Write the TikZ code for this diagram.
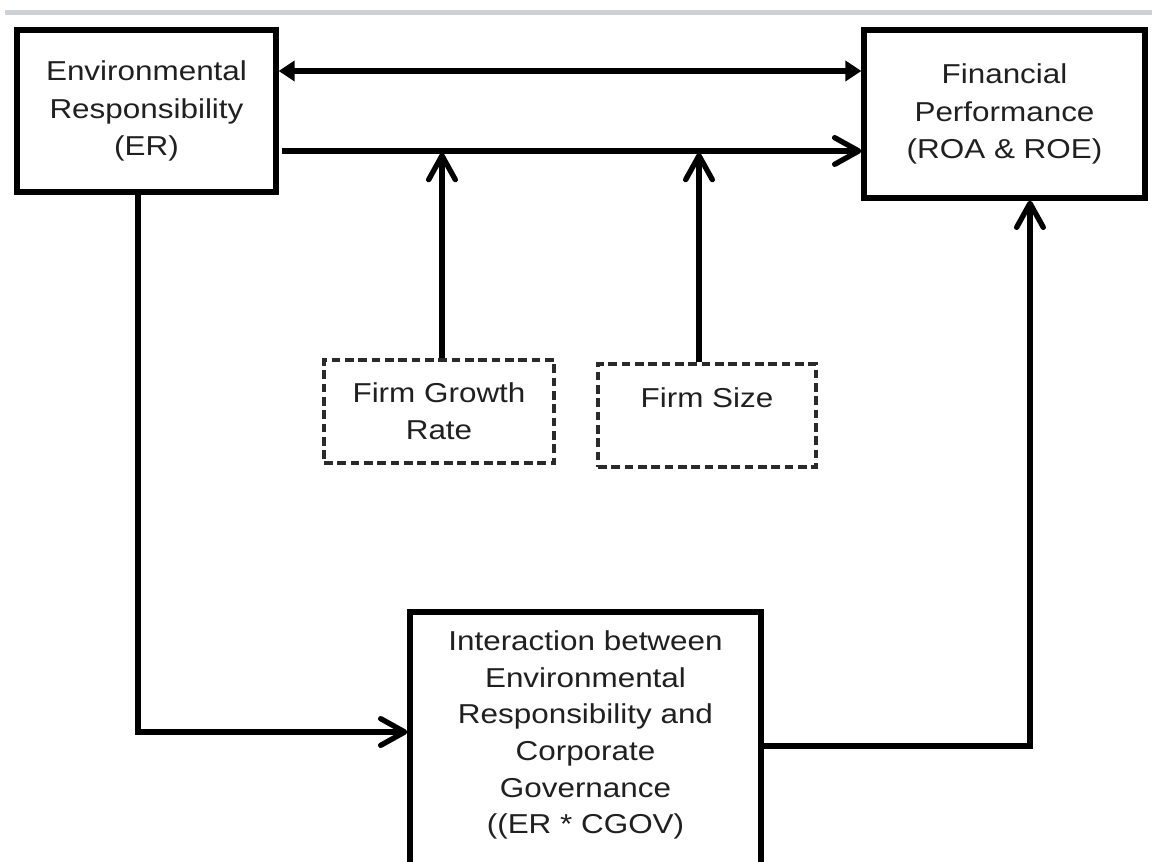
\documentclass[tikz,border=0pt]{standalone}
\usepackage{fontspec}
\setmainfont{Liberation Sans}[FakeStretch=1.15]
\usetikzlibrary{arrows.meta}
\definecolor{txt}{HTML}{202020}
\definecolor{rulegray}{HTML}{CDD0D5}
\definecolor{dashgray}{HTML}{2A2A2A}
\newcommand\myfs{\fontsize{20.5pt}{27.5pt}\selectfont}
\newcommand\myfsb{\fontsize{20.5pt}{28.2pt}\selectfont}
\begin{document}
\begin{tikzpicture}[x=0.75pt,y=-0.75pt,
  box/.style={draw=black, line width=4pt, inner sep=0pt, align=center, text=txt, font=\myfsb},
  dbox/.style={draw=dashgray, line width=2.6pt, dash pattern=on 6.5pt off 3.5pt, inner sep=0pt, align=center, text=txt, font=\myfs},
  lbl/.style={align=center, text=txt, font=\myfs, inner sep=0pt},
  conn/.style={line width=4pt, draw=black},
  openarr/.style={-{Straight Barb[length=18pt,width=20pt,round]}},
  twoway/.style={{Triangle[length=12pt,width=15pt]}-{Triangle[length=12pt,width=15pt]}}
]
\useasboundingbox (0,0) rectangle (1152,862);
\fill[white] (0,0) rectangle (1152,862);
\clip (0,0) rectangle (1152,862);
\draw[rulegray, line width=3.75pt] (5,12.5) -- (1152,12.5);

\node[box, minimum width=194.25pt, minimum height=121.5pt] (ER) at (146.5,111) {Environmental\\Responsibility\\(ER)};
\node[box, minimum width=210.75pt, minimum height=126pt] (FP) at (1004.5,114) {Financial\\Performance\\(ROA \& ROE)};
\node[dbox, minimum width=172.5pt, minimum height=77.25pt] (FG) at (439,411.5) {Firm Growth\\Rate};
\node[dbox, minimum width=163.5pt, minimum height=77.25pt] (FS) at (707,415.5) {Firm Size\\\mbox{}};
\node[box, minimum width=263.25pt, minimum height=193.5pt] (IN) at (585.5,741) {};
\node[lbl] (INT) at (585.5,735) {Interaction between\\Environmental\\Responsibility and\\Corporate\\Governance\\((ER * CGOV)};

\coordinate (mid) at (500,153);

\draw[conn, twoway] ([yshift=30pt]ER.east) -- ([yshift=30pt]ER.east -| FP.west);
\draw[conn, openarr] ([xshift=2.25pt,yshift=-30pt]ER.east) -- ([yshift=-30pt]ER.east -| FP.west);
\draw[conn, openarr] ([xshift=2.25pt]FG.north) -- ([xshift=2.25pt]FG.north |- mid);
\draw[conn, openarr] ([xshift=-6pt]FS.north) -- ([xshift=-6pt]FS.north |- mid);
\draw[conn, openarr] ([xshift=-6.4pt]ER.south) |- ([yshift=6.75pt]IN.west);
\draw[conn, openarr] ([yshift=-3.75pt]IN.east) -| ([xshift=19.1pt]FP.south);
\end{tikzpicture}
\end{document}
